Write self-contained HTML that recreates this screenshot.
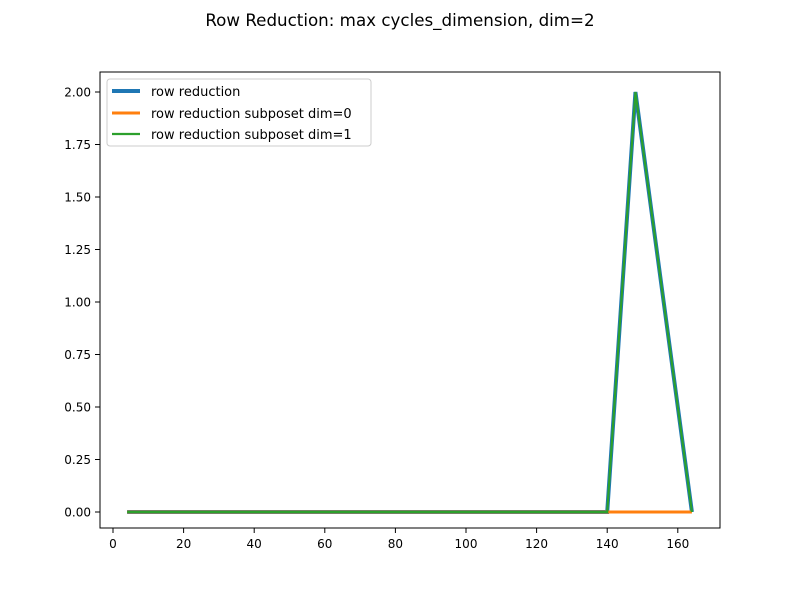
<!DOCTYPE html>
<html><head><meta charset="utf-8"><style>
body{margin:0;background:#fff}
svg text{font-family:"DejaVu Sans","Liberation Sans",sans-serif}
</style></head><body>
<svg id="chart" width="800" height="600" xmlns="http://www.w3.org/2000/svg">
<rect width="800" height="600" fill="#fff"/>
<text x="400" y="26" font-size="16.7" text-anchor="middle">Row Reduction: max cycles_dimension, dim=2</text>
<g id="plot"></g>
<rect x="100" y="72" width="620" height="456" fill="none" stroke="#000" stroke-width="1"/>
<g id="xt"></g><g id="yt"></g>
<g>
<rect x="107" y="79" width="264" height="67" rx="3" fill="#fff" fill-opacity="0.8" stroke="#ccc"/>
<line x1="112" y1="91" x2="140" y2="91" stroke="#1f77b4" stroke-width="4"/>
<text x="151" y="96" font-size="13">row reduction</text>
<line x1="112" y1="113" x2="140" y2="113" stroke="#ff7f0e" stroke-width="3"/>
<text x="151" y="118" font-size="13">row reduction subposet dim=0</text>
<line x1="112" y1="134" x2="140" y2="134" stroke="#2ca02c" stroke-width="2.2"/>
<text x="151" y="139" font-size="13">row reduction subposet dim=1</text>
</g>
</svg>
<script>
const xs = [4,12,20,28,36,44,52,60,68,76,84,92,100,108,116,124,132,140,148,156,164];
const rowRed = [0,0,0,0,0,0,0,0,0,0,0,0,0,0,0,0,0,0,2,1,0];
const dim0 = [0,0,0,0,0,0,0,0,0,0,0,0,0,0,0,0,0,0,0,0,0];
const dim1 = [0,0,0,0,0,0,0,0,0,0,0,0,0,0,0,0,0,0,2,1,0];
const xTicks = [0,20,40,60,80,100,120,140,160];
const yTicks = [0,0.25,0.5,0.75,1,1.25,1.5,1.75,2];
const yLabels = ["0.00","0.25","0.50","0.75","1.00","1.25","1.50","1.75","2.00"];
const NS="http://www.w3.org/2000/svg";
const X = v => 113 + v * 3.53;
const Y = v => 512 - v * 210;
const plot = document.getElementById('plot');
function line(data, color, w, name){
  const p = document.createElementNS(NS,'polyline');
  p.setAttribute('points', xs.map((x,i)=>X(x)+','+Y(data[i])).join(' '));
  p.setAttribute('fill','none'); p.setAttribute('stroke',color); p.setAttribute('stroke-width',w);
  
  
  plot.appendChild(p);
}
line(rowRed,'#1f77b4',4,'series-row-reduction');
line(dim0,'#ff7f0e',3,'series-subposet-dim0');
line(dim1,'#2ca02c',2.2,'series-subposet-dim1');
const xt=document.getElementById('xt');
xTicks.forEach(t=>{
  const l=document.createElementNS(NS,'line');
  l.setAttribute('x1',X(t));l.setAttribute('x2',X(t));l.setAttribute('y1',528);l.setAttribute('y2',533);l.setAttribute('stroke','#000');
  
  
  xt.appendChild(l);
  const s=document.createElementNS(NS,'text');
  s.setAttribute('x',X(t));s.setAttribute('y',548);s.setAttribute('font-size','12');s.setAttribute('text-anchor','middle');
  s.textContent=t;
  
  
  xt.appendChild(s);
});
const yt=document.getElementById('yt');
yTicks.forEach((t,i)=>{
  const l=document.createElementNS(NS,'line');
  l.setAttribute('x1',95);l.setAttribute('x2',100);l.setAttribute('y1',Y(t));l.setAttribute('y2',Y(t));l.setAttribute('stroke','#000');
  
  
  yt.appendChild(l);
  const s=document.createElementNS(NS,'text');
  s.setAttribute('x',91);s.setAttribute('y',Y(t)+4.5);s.setAttribute('font-size','12');s.setAttribute('text-anchor','end');
  s.textContent=yLabels[i];
  
  
  yt.appendChild(s);
});
</script>
</body></html>
